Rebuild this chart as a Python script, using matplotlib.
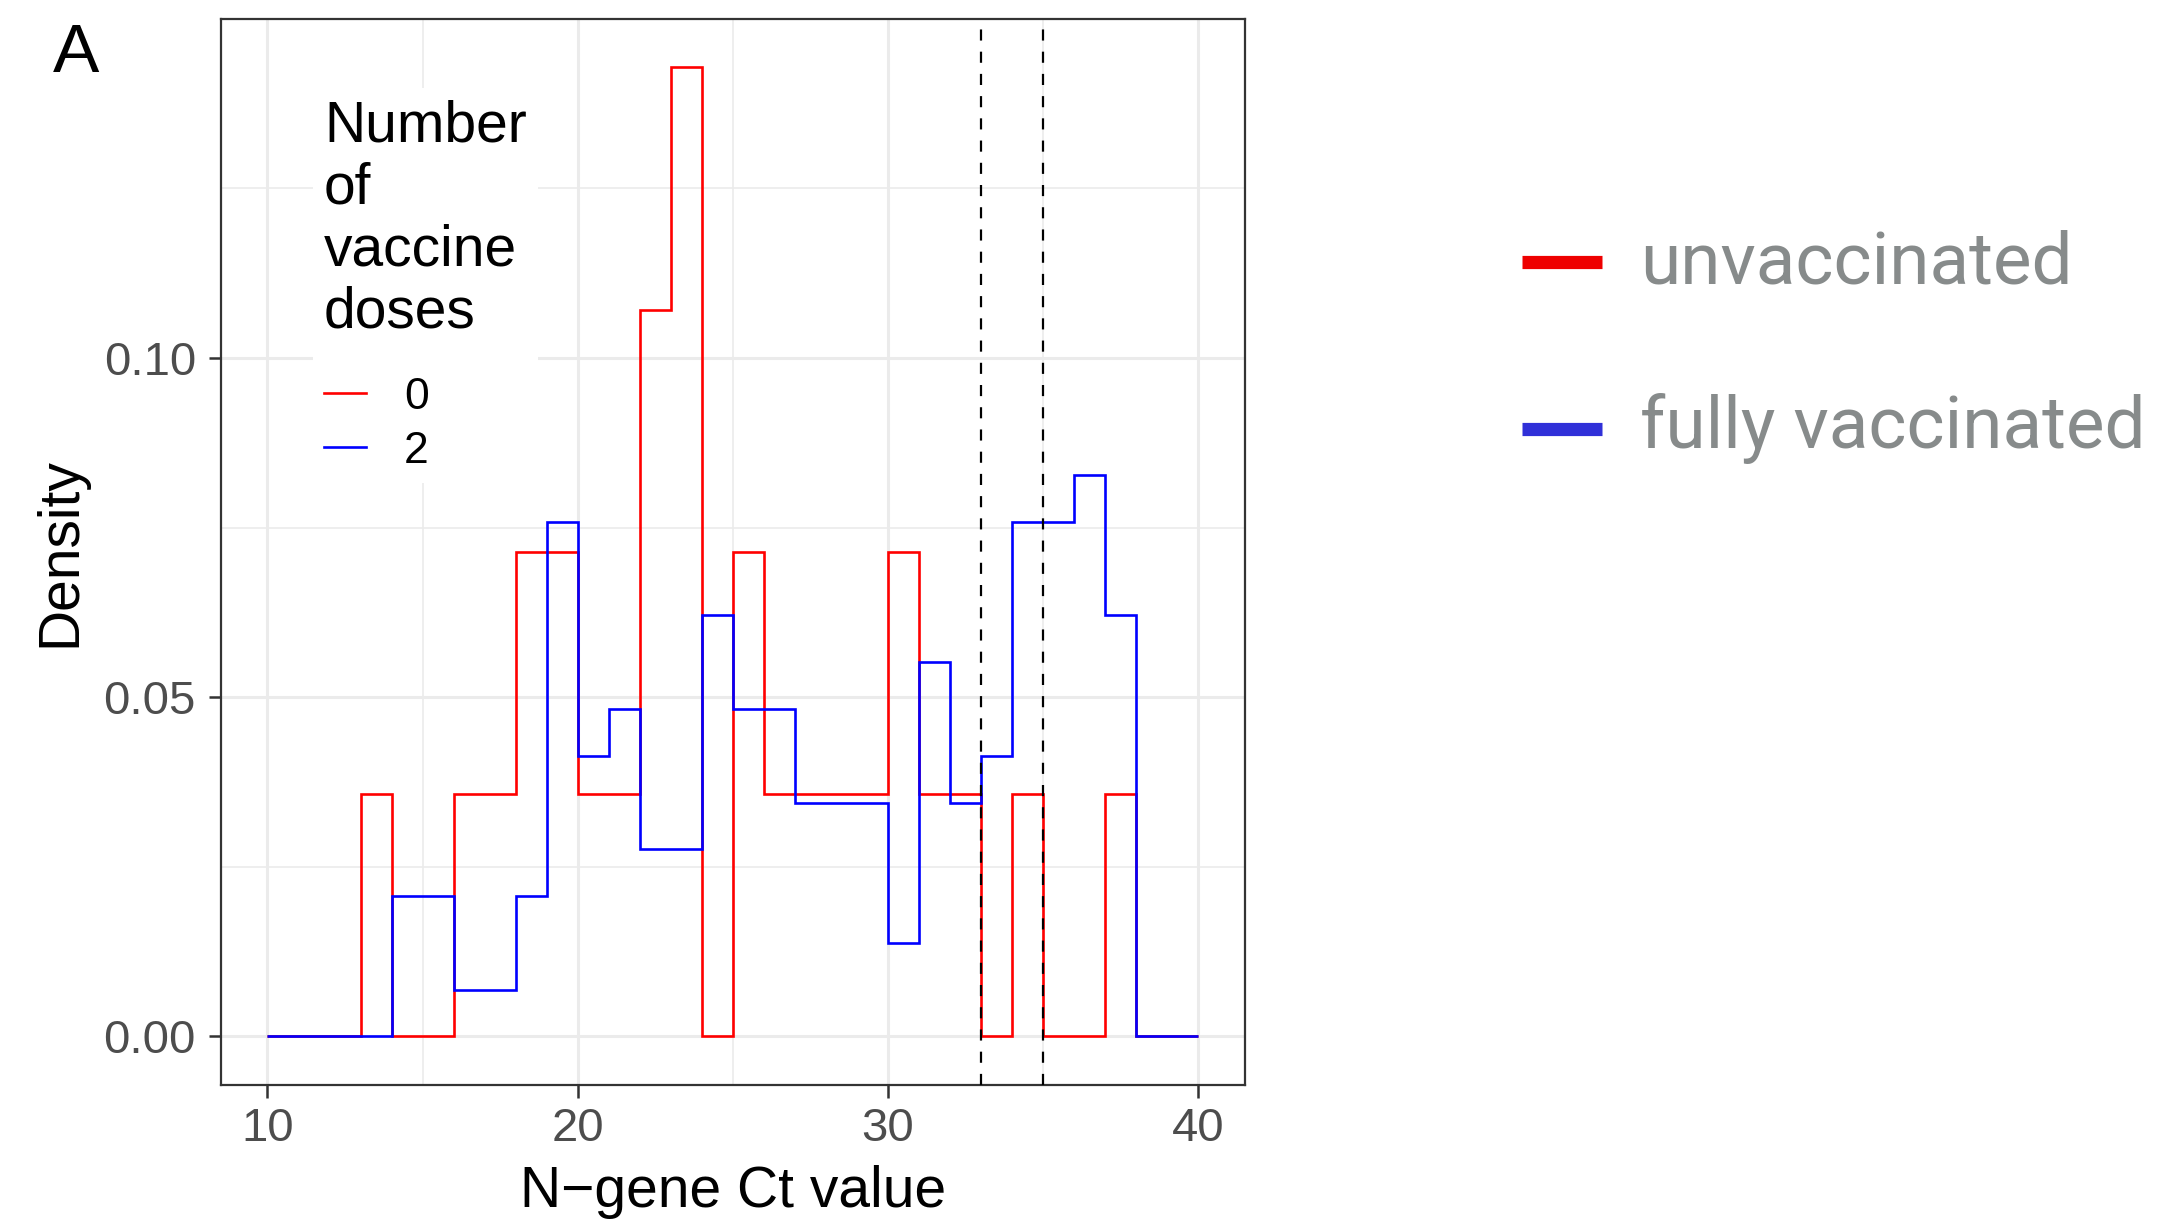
import numpy as np
import matplotlib.pyplot as plt
from matplotlib.lines import Line2D
from matplotlib.ticker import MultipleLocator

plt.rcParams['font.family'] = ['Liberation Sans', 'DejaVu Sans']

# Ct-Werte: Klassen der Breite 1 von 10 bis 40, Anzahl je Klasse
bin_edges = np.arange(10, 41)
counts_0_doses = np.array([0, 0, 0, 1, 0, 0, 1, 1, 2, 2,
                           1, 1, 3, 4, 0, 2, 1, 1, 1, 1,
                           2, 1, 1, 0, 1, 0, 0, 1, 0, 0])
counts_2_doses = np.array([0, 0, 0, 0, 3, 3, 1, 1, 3, 11,
                           6, 7, 4, 4, 9, 7, 7, 5, 5, 5,
                           2, 8, 5, 6, 11, 11, 12, 9, 0, 0])
cutoffs = [33, 35]
dose_labels = ['0', '2']
group_names = ['unvaccinated', 'fully vaccinated']

dens_0 = counts_0_doses / counts_0_doses.sum()
dens_2 = counts_2_doses / counts_2_doses.sum()

fig = plt.figure(figsize=(21.62, 12.2), dpi=100)
ax = fig.add_axes([0.1022, 0.1107, 0.4736, 0.8738])

ax.stairs(dens_0, bin_edges, baseline=None, color='red', lw=1.9, zorder=3)
ax.stairs(dens_2, bin_edges, baseline=None, color='blue', lw=1.9, zorder=3)
for c in cutoffs:
    ax.axvline(c, color='black', ls=(0, (5, 5)), lw=1.6, zorder=4)

# Achsen im ggplot-theme_bw-Stil
ax.set_xlim(8.5, 41.5)
ax.set_ylim(-0.00715, 0.15)
ax.set_xticks([10, 20, 30, 40])
ax.set_yticks([0, 0.05, 0.10])
ax.set_yticklabels(['0.00', '0.05', '0.10'])
ax.xaxis.set_minor_locator(MultipleLocator(5))
ax.yaxis.set_minor_locator(MultipleLocator(0.025))
ax.grid(which='major', color='#ebebeb', lw=2.2)
ax.grid(which='minor', color='#ebebeb', lw=1.2)
ax.set_axisbelow(True)
for s in ax.spines.values():
    s.set_color('#333333')
    s.set_linewidth(1.6)
ax.tick_params(which='major', length=9, width=1.8, color='#333333',
               labelsize=34, labelcolor='#4d4d4d', pad=7)
ax.tick_params(axis='y', pad=9)
ax.tick_params(which='minor', length=0)
ax.set_xlabel('N\u2212gene Ct value', fontsize=41, labelpad=10)
ax.set_ylabel('Density', fontsize=41, labelpad=12)

handles = [Line2D([], [], color='red', lw=1.9), Line2D([], [], color='blue', lw=1.9)]
leg = ax.legend(handles, dose_labels, title='Number\nof\nvaccine\ndoses',
                loc='upper left', bbox_to_anchor=(0.068, 0.956),
                fontsize=32, title_fontsize=41, handlelength=0.95,
                handletextpad=0.85, labelspacing=0.3, borderpad=0.25,
                alignment='left', framealpha=1)
leg.get_frame().set_edgecolor('none')
leg.get_frame().set_facecolor('white')
leg.get_title().set_linespacing(1.195)
leg._legend_box.sep = 26.5  # Abstand Titel -> Einträge

fig.text(76 / 2162, 1 - 54 / 1220, 'A', fontsize=50, ha='center', va='center')

# Legende rechts
side_colors = ['#ee0000', '#3030d8']
line_y = [1 - 262 / 1220, 1 - 429 / 1220]
text_y = [1 - 283 / 1220, 1 - 448 / 1220]
for name, col, ly, ty in zip(group_names, side_colors, line_y, text_y):
    fig.add_artist(Line2D([1522 / 2162, 1602 / 2162], [ly, ly], transform=fig.transFigure,
                          color=col, lw=9.5, solid_capstyle='butt'))
    fig.text(1640 / 2162, ty, name, fontsize=52.5, color='#878b8b',
             family=['Roboto', 'DejaVu Sans'], va='baseline')

fig.savefig('out.png', dpi=100)
